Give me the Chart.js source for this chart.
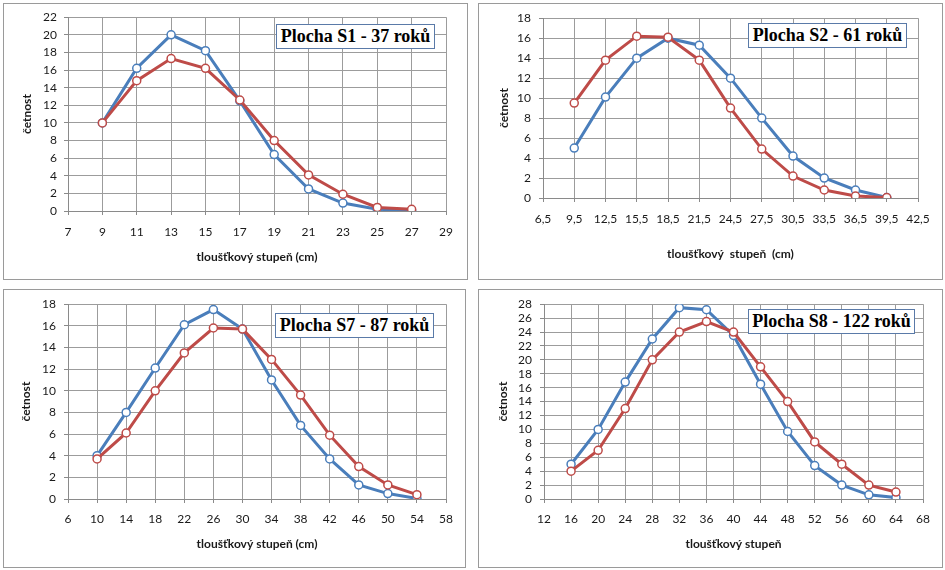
<!DOCTYPE html>
<html>
<head>
<meta charset="utf-8">
<script src="https://cdn.jsdelivr.net/npm/chart.js@4/dist/chart.umd.min.js"></script>
<style>
  html, body { margin: 0; padding: 0; background: #ffffff; }
  body { width: 945px; height: 570px; position: relative; overflow: hidden; }
  .panel { position: absolute; box-sizing: border-box; border: 1px solid #9a9a9a; }
  canvas { position: absolute; }
  .tbox { position: absolute; box-sizing: border-box; border: 1px solid #5a7aa8; background: #ffffff;
          font-family: "Liberation Serif", "Times New Roman", serif; font-weight: bold; font-size: 18px;
          color: #000; display: flex; align-items: center; justify-content: center; white-space: nowrap; }
</style>
</head>
<body>
<script>
// ---------- DATA ----------
// Plocha S1 - 37 roků
const s1Title = "Plocha S1 - 37 roků";
const s1X = [9, 11, 13, 15, 17, 19, 21, 23, 25, 27];
const s1Blue = [10, 16.2, 20, 18.2, 12.5, 6.4, 2.5, 0.9, 0.2, 0.05];
const s1Red  = [10, 14.8, 17.3, 16.2, 12.6, 8, 4.1, 1.9, 0.4, 0.2];
const s1XTicks = { min: 7, max: 29, step: 2 };
const s1YTicks = { min: 0, max: 22, step: 2 };

// Plocha S2 - 61 roků
const s2Title = "Plocha S2 - 61 roků";
const s2X = [9.5, 12.5, 15.5, 18.5, 21.5, 24.5, 27.5, 30.5, 33.5, 36.5, 39.5];
const s2Blue = [5, 10.1, 14, 16, 15.3, 12, 8, 4.2, 2, 0.8, 0.05];
const s2Red  = [9.5, 13.8, 16.2, 16.1, 13.8, 9, 4.9, 2.2, 0.8, 0.2, 0.05];
const s2XTicks = { min: 6.5, max: 42.5, step: 3 };
const s2YTicks = { min: 0, max: 18, step: 2 };

// Plocha S7 - 87 roků
const s7Title = "Plocha S7 - 87 roků";
const s7X = [10, 14, 18, 22, 26, 30, 34, 38, 42, 46, 50, 54];
const s7Blue = [4, 8, 12.1, 16.1, 17.5, 15.7, 11, 6.8, 3.7, 1.3, 0.5, 0.05];
const s7Red  = [3.7, 6.1, 10, 13.5, 15.8, 15.7, 12.9, 9.6, 5.9, 3, 1.3, 0.4];
const s7XTicks = { min: 6, max: 58, step: 4 };
const s7YTicks = { min: 0, max: 18, step: 2 };

// Plocha S8 - 122 roků
const s8Title = "Plocha S8 - 122 roků";
const s8X = [16, 20, 24, 28, 32, 36, 40, 44, 48, 52, 56, 60, 64];
const s8Blue = [5, 10, 16.8, 23, 27.5, 27.2, 23.5, 16.5, 9.7, 4.8, 2, 0.6, 0.2];
const s8Red  = [4, 7, 13, 20, 24, 25.5, 24, 19, 14, 8.2, 5, 2, 1];
const s8XTicks = { min: 12, max: 68, step: 4 };
const s8YTicks = { min: 0, max: 28, step: 2 };

const yAxisLabel = "četnost";
const xAxisLabelCm = "tloušťkový stupeň (cm)";
const xAxisLabelCmWide = "tloušťkový  stupeň  (cm)";
const xAxisLabel = "tloušťkový stupeň";

// ---------- LAYOUT ----------
const BLUE = "#4a7ebb";
const RED = "#be4b48";
const TICK_FONT = { family: "Lato, 'Open Sans', sans-serif", size: 12 };
const TITLE_FONT = { family: "Lato, 'Open Sans', sans-serif", size: 12, weight: "bold" };
const TICK_LEN = 4;

const panels = [
  { title: s1Title, x: s1X, blue: s1Blue, red: s1Red, xt: s1XTicks, yt: s1YTicks, xLabel: xAxisLabelCm, comma: false,
    box: [3, 3, 465, 277], plot: [68, 446, 15, 211], tickY: 232, xTitleY: 257, yTitleX: 27, yTickGap: 11,
    tbox: [276, 24, 159, 25] },
  { title: s2Title, x: s2X, blue: s2Blue, red: s2Red, xt: s2XTicks, yt: s2YTicks, xLabel: xAxisLabelCmWide, comma: true,
    box: [478, 3, 465, 277], plot: [543, 918, 15, 198], tickY: 219, xTitleY: 254, yTitleX: 504, yTickGap: 12,
    tbox: [748, 23, 159, 25] },
  { title: s7Title, x: s7X, blue: s7Blue, red: s7Red, xt: s7XTicks, yt: s7YTicks, xLabel: xAxisLabelCm, comma: false,
    box: [3, 289, 463, 279], plot: [68, 446, 303, 499], tickY: 519, xTitleY: 544, yTitleX: 26, yTickGap: 12,
    tbox: [275, 313, 159, 25] },
  { title: s8Title, x: s8X, blue: s8Blue, red: s8Red, xt: s8XTicks, yt: s8YTicks, xLabel: xAxisLabel, comma: false,
    box: [478, 289, 465, 279], plot: [544, 923, 303, 499], tickY: 519, xTitleY: 544, yTitleX: 503, yTickGap: 12,
    tbox: [748, 309, 167, 25] }
];

function pts(xs, ys) { return xs.map((x, i) => ({ x: x, y: ys[i] })); }

panels.forEach((p, idx) => {
  const [bx, by, bw, bh] = p.box;
  const [pl, pr, pt, pb] = p.plot;
  const panel = document.createElement("div");
  panel.className = "panel";
  Object.assign(panel.style, { left: bx + "px", top: by + "px", width: bw + "px", height: bh + "px" });
  document.body.appendChild(panel);

  const cv = document.createElement("canvas");
  cv.width = bw; cv.height = bh;
  Object.assign(cv.style, { left: bx + "px", top: by + "px", width: bw + "px", height: bh + "px" });
  document.body.appendChild(cv);

  const yWidth = pl - bx;
  const xHeight = (by + bh) - pb;
  const tickLH = TICK_FONT.size * 1.2;
  const titleLH = TITLE_FONT.size * 1.2;
  const xTickPad = (p.tickY - pb) - TICK_LEN - tickLH / 2;
  const xTitlePadBottom = (by + bh) - p.xTitleY - titleLH / 2;
  const yTitlePadTop = (p.yTitleX - bx) - titleLH / 2;

  const lineDs = (label, data, color, order) => ({
    label: label, data: data, borderColor: color, backgroundColor: color,
    borderWidth: 3, showLine: true, tension: 0, order: order,
    pointRadius: 4, pointBorderWidth: 1.5, pointBackgroundColor: "#ffffff", pointBorderColor: color,
    pointHoverRadius: 4
  });

  new Chart(cv, {
    type: "scatter",
    data: {
      datasets: [
        lineDs("blue", pts(p.x, p.blue), BLUE, 2),
        lineDs("red", pts(p.x, p.red), RED, 1)
      ]
    },
    options: {
      responsive: false, animation: false, devicePixelRatio: 1,
      layout: { padding: { left: 0, top: pt - by, right: (bx + bw) - pr, bottom: 0 } },
      plugins: { legend: { display: false }, tooltip: { enabled: false } },
      scales: {
        x: {
          type: "linear", position: "bottom",
          min: p.xt.min, max: p.xt.max,
          afterFit: (s) => { s.height = xHeight; },
          ticks: { stepSize: p.xt.step, maxTicksLimit: 100, autoSkip: false, maxRotation: 0, minRotation: 0,
                   padding: xTickPad, color: "#1a1a1a", font: TICK_FONT,
                   callback: (v) => p.comma ? String(v.toFixed(1)).replace(".", ",") : String(v) },
          grid: { color: "#9c9c9c", lineWidth: 1, drawTicks: true, tickLength: TICK_LEN, tickColor: "#8a8a8a" },
          border: { display: true, color: "#8a8a8a", width: 1 },
          title: { display: true, text: p.xLabel, color: "#1a1a1a", font: TITLE_FONT,
                   padding: { top: 0, bottom: xTitlePadBottom } }
        },
        y: {
          type: "linear", position: "left",
          min: p.yt.min, max: p.yt.max,
          afterFit: (s) => { s.width = yWidth; },
          ticks: { stepSize: p.yt.step, maxTicksLimit: 100, autoSkip: false,
                   padding: p.yTickGap - TICK_LEN, color: "#1a1a1a", font: TICK_FONT },
          grid: { color: "#9c9c9c", lineWidth: 1, borderDash: [4, 3], drawTicks: true, tickLength: TICK_LEN,
                  tickColor: "#8a8a8a", tickBorderDash: [] },
          border: { display: true, color: "#8a8a8a", width: 1 },
          title: { display: true, text: yAxisLabel, color: "#1a1a1a", font: TITLE_FONT,
                   padding: { top: yTitlePadTop, bottom: 0 } }
        }
      }
    }
  });

  const [tx, ty, tw, th] = p.tbox;
  const tb = document.createElement("div");
  tb.className = "tbox";
  tb.textContent = p.title;
  Object.assign(tb.style, { left: tx + "px", top: ty + "px", width: tw + "px", height: th + "px" });
  document.body.appendChild(tb);
});
</script>
</body>
</html>
